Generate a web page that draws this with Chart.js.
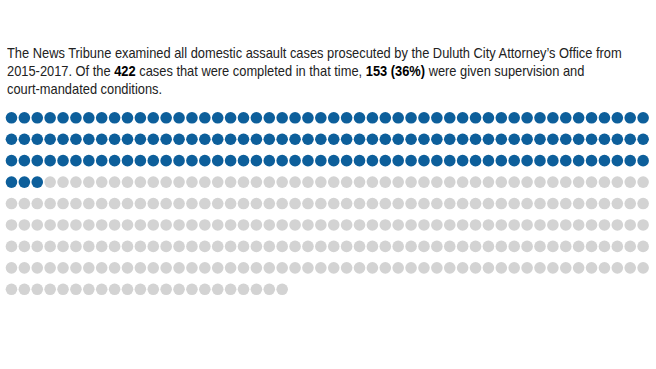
<!DOCTYPE html>
<html>
<head>
<meta charset="utf-8">
<script src="https://cdn.jsdelivr.net/npm/chart.js@4/dist/chart.umd.min.js"></script>
<style>
  html, body { margin: 0; padding: 0; background: #fff; }
  body { width: 656px; height: 369px; position: relative; overflow: hidden; }
  #intro {
    position: absolute; left: 7px; top: 44px; width: 800px; margin: 0;
    font-family: 'Liberation Sans', Arial, sans-serif;
    font-size: 15px; line-height: 18px; color: #222; white-space: nowrap;
    transform: scaleX(0.82); transform-origin: left top;
  }
  #intro b { color: #000; }
  #wrap { position: absolute; left: 0; top: 100px; width: 656px; height: 200px; }
</style>
</head>
<body>
<p id="intro"><span id="line1">The News Tribune examined all domestic assault cases prosecuted by the Duluth City Attorney’s Office from</span><br>2015-2017. Of the <b>422</b> cases that were completed in that time, <b>153 (36%)</b> were given supervision and<br>court-mandated conditions.</p>
<div id="wrap"><canvas id="dots" width="656" height="200"></canvas></div>
<script>
// outcome groups, one dot per case
const outcomeLabels = ['Supervision and court-mandated conditions', 'Other outcomes'];
const outcomeCounts = [153, 269];
const outcomeColors = ['#0d5f9b', '#d3d3d3'];
const dotsPerRow = 50;

// squeeze the intro so the first line ends where the original does
const line1 = document.getElementById('line1');
const intro = document.getElementById('intro');
intro.style.transform = 'none';
const w = line1.getBoundingClientRect().width;
intro.style.transform = 'scaleX(' + (615 / w).toFixed(3) + ')';

// lay the cases out row by row, blue first
let caseIndex = 0;
const datasets = outcomeLabels.map((label, g) => {
  const pts = [];
  for (let i = 0; i < outcomeCounts[g]; i++) {
    pts.push({x: caseIndex % dotsPerRow, y: Math.floor(caseIndex / dotsPerRow)});
    caseIndex++;
  }
  return {
    label, data: pts,
    backgroundColor: outcomeColors[g],
    borderWidth: 0, pointRadius: 5.8, pointHoverRadius: 5.8
  };
});

new Chart(document.getElementById('dots'), {
  type: 'scatter',
  data: {datasets},
  options: {
    responsive: false, animation: false,
    layout: {padding: 0, autoPadding: false},
    plugins: {legend: {display: false}, tooltip: {enabled: false}},
    scales: {
      x: {type: 'linear', min: -0.89, max: 50, display: false},
      y: {type: 'linear', min: -0.83, max: 8.5, reverse: true, display: false}
    }
  }
});
</script>
</body>
</html>
